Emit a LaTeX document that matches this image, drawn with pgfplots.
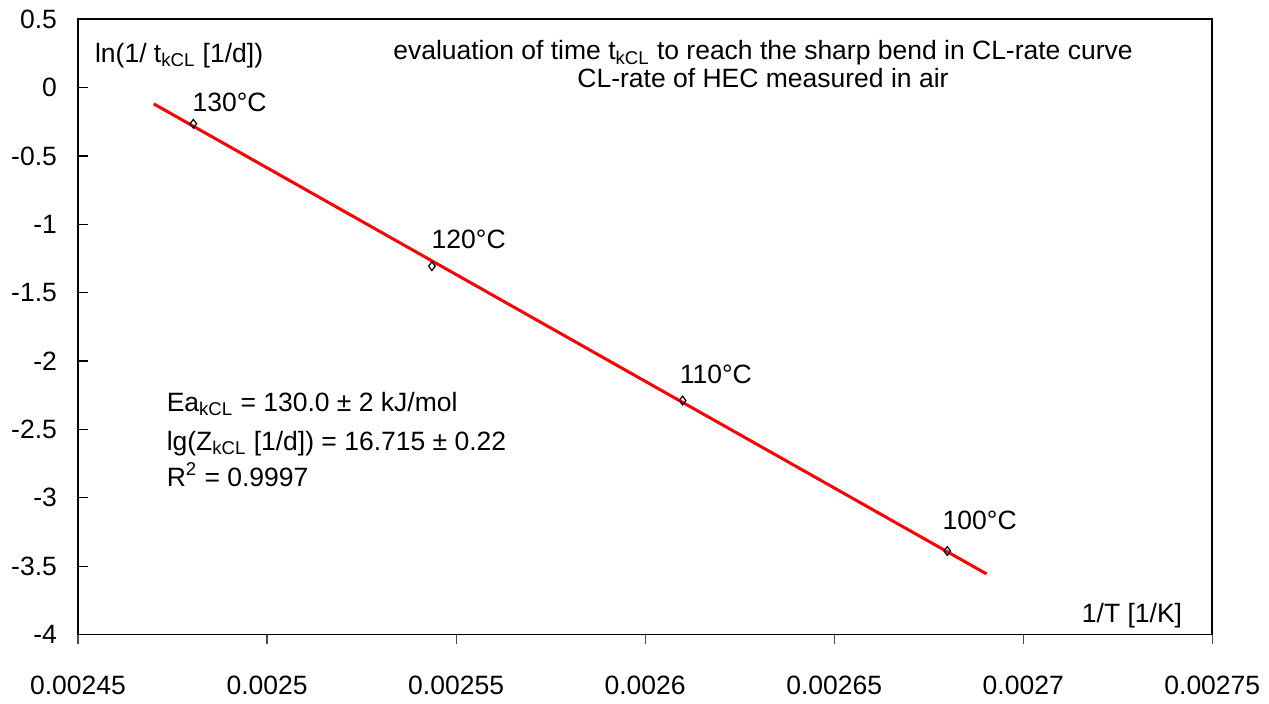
\documentclass[border=0pt]{standalone}
\usepackage{fontspec}
\setmainfont{Liberation Sans}
\usepackage{pgfplots}
\pgfplotsset{compat=1.18}

\begin{document}
\fontsize{13.3pt}{16pt}\selectfont
\begin{tikzpicture}
\begin{axis}[
    scale only axis,
    width=569.4pt, height=308.9pt,
    xmin=0.00245, xmax=0.00275,
    ymin=-4, ymax=0.5,
    xtick={0.00245,0.0025,0.00255,0.0026,0.00265,0.0027,0.00275},
    ytick={-4,-3.5,-3,-2.5,-2,-1.5,-1,-0.5,0,0.5},
    scaled x ticks=false,
    xtick pos=bottom, ytick pos=left,
    x tick style={black!70, line width=0.6pt},
    y tick style={black, line width=0.6pt},
    major tick length=5pt,
    xtick align=outside, ytick align=inside,
    axis line style={black, line width=0.9pt},
    xticklabel style={/pgf/number format/fixed, /pgf/number format/precision=5, yshift=-11pt},
    yticklabel style={/pgf/number format/fixed, xshift=-6pt},
    /pgf/number format/assume math mode=true,
    tick label style={font=\fontsize{13.3pt}{16pt}\selectfont},
    clip=false,
]
% fitted Arrhenius line
\addplot[red, line width=1.5pt] coordinates {(0.002470,-0.119) (0.0026903,-3.557)};
% measured points (1/T, ln(1/t_kCL))
\addplot[only marks, mark=diamond, mark size=2.2pt, mark options={black, line width=0.6pt, fill=white}] coordinates {
    (0.0024805,-0.265) (0.0025436,-1.306) (0.0026099,-2.289) (0.0026799,-3.389)
};

\node[anchor=base west, inner sep=0] at (rel axis cs:0.0147,0.9301) {ln(1/ t\textsubscript{kCL} [1/d])};
\node[anchor=base, inner sep=0] at (rel axis cs:0.6039,0.9341) {evaluation of time t\textsubscript{kCL} to reach the sharp bend in CL-rate curve};
\node[anchor=base, inner sep=0] at (rel axis cs:0.6039,0.8888) {CL-rate of HEC measured in air};

\node[anchor=base west, inner sep=0] at (rel axis cs:0.1007,0.8499) {130°C};
\node[anchor=base west, inner sep=0] at (rel axis cs:0.3115,0.6281) {120°C};
\node[anchor=base west, inner sep=0] at (rel axis cs:0.5302,0.4080) {110°C};
\node[anchor=base west, inner sep=0] at (rel axis cs:0.7620,0.1700) {100°C};

\node[anchor=base west, inner sep=0] at (rel axis cs:0.0779,0.3626) {Ea\textsubscript{kCL} = 130.0 ± 2 kJ/mol};
\node[anchor=base west, inner sep=0] at (rel axis cs:0.0779,0.2995) {lg(Z\textsubscript{kCL} [1/d]) = 16.715 ± 0.22};
\node[anchor=base west, inner sep=0] at (rel axis cs:0.0779,0.2412) {R\textsuperscript{2} = 0.9997};

\node[anchor=base east, inner sep=0] at (rel axis cs:0.9737,0.0194) {1/T [1/K]};

\path (rel axis cs:-0.0688,-0.0890) rectangle (rel axis cs:1.0457,1.0312);
\end{axis}
\end{tikzpicture}
\end{document}
